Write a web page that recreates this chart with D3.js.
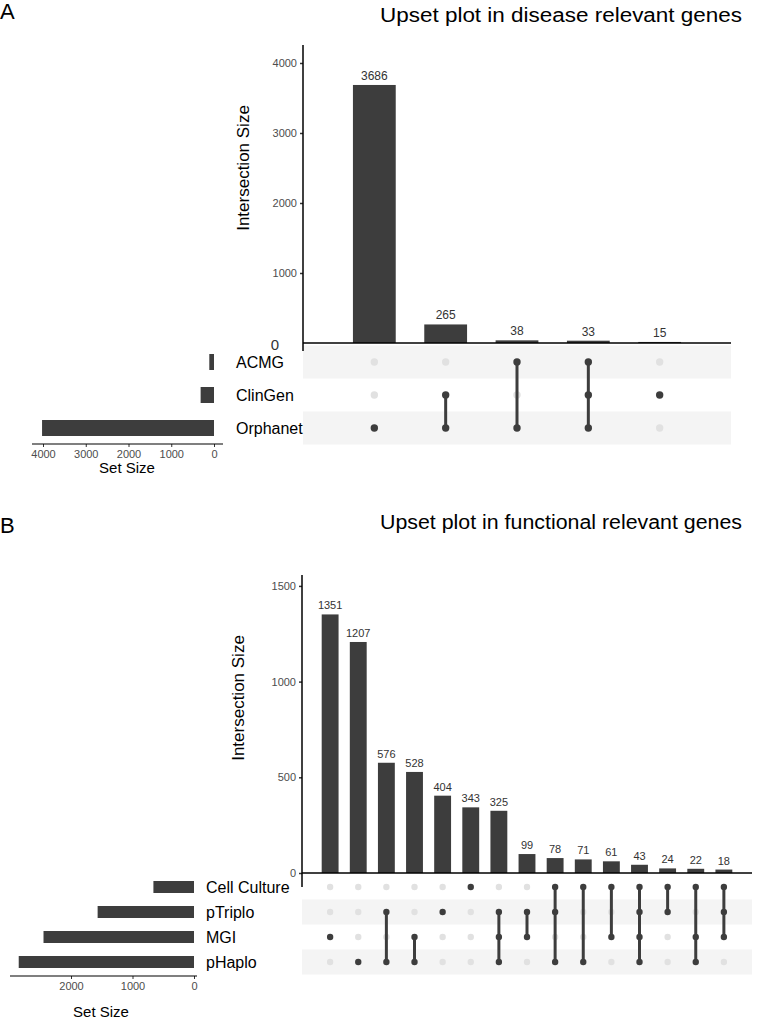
<!DOCTYPE html>
<html>
<head>
<meta charset="utf-8">
<script src="https://cdn.jsdelivr.net/npm/d3@7"></script>
<style>
  body { margin: 0; background: #fff; }
  svg { display: block; font-family: "Liberation Sans", Arial, sans-serif; }
</style>
</head>
<body>
<script>
// panel A data
var setsA = ["ACMG", "ClinGen", "Orphanet"];
var setSizesA = [110, 313, 4022];
var countsA = [3686, 265, 38, 33, 15];
var membersA = [
  ["Orphanet"],
  ["ClinGen", "Orphanet"],
  ["ACMG", "Orphanet"],
  ["ACMG", "ClinGen", "Orphanet"],
  ["ClinGen"]
];
var yTicksA = [1000, 2000, 3000, 4000];
var setTicksA = [0, 1000, 2000, 3000, 4000];

// panel B data
var setsB = ["Cell Culture", "pTriplo", "MGI", "pHaplo"];
var setSizesB = [660, 1567, 2447, 2850];
var countsB = [1351, 1207, 576, 528, 404, 343, 325, 99, 78, 71, 61, 43, 24, 22, 18];
var membersB = [
  ["MGI"],
  ["pHaplo"],
  ["pTriplo", "pHaplo"],
  ["MGI", "pHaplo"],
  ["pTriplo"],
  ["Cell Culture"],
  ["pTriplo", "MGI", "pHaplo"],
  ["pTriplo", "MGI"],
  ["Cell Culture", "pTriplo", "pHaplo"],
  ["Cell Culture", "pHaplo"],
  ["Cell Culture", "MGI"],
  ["Cell Culture", "pTriplo", "MGI", "pHaplo"],
  ["Cell Culture", "pTriplo"],
  ["Cell Culture", "MGI", "pHaplo"],
  ["Cell Culture", "pTriplo", "MGI"]
];
var yTicksB = [0, 500, 1000, 1500];
var setTicksB = [0, 1000, 2000];

var width = 760, height = 1020;
var dark = "#3d3d3d", light = "#e1e1e1", stripe = "#f4f4f4";
var fmt = d3.format("d");

var svg = d3.select("body").append("svg")
    .attr("width", width)
    .attr("height", height);

function upset(p) {
  var g = svg.append("g");
  var n = p.counts.length;
  var step = (p.right - p.left) / (n + 1);
  var x = d3.scalePoint()
      .domain(d3.range(n))
      .range([p.left + step, p.right - step]);
  var bw = step * 0.6;
  var y = d3.scaleLinear().domain([0, p.yMax]).range([p.y0, p.yTop]);

  // panel letter and title
  g.append("text").attr("x", 0).attr("y", p.letterY)
      .style("font-size", "22px").text(p.letter);
  g.append("text").attr("x", 380).attr("y", p.titleY)
      .attr("textLength", 362).attr("lengthAdjust", "spacingAndGlyphs")
      .style("font-size", "20px").text(p.title);

  // matrix stripes
  var row = d3.scaleBand().domain(p.sets)
      .range([p.mTop, p.mTop + p.rowH * p.sets.length]);
  g.selectAll(".stripe").data(p.sets.filter(function(s, i) {
        return (p.sets.length - 1 - i) % 2 === 0; }))
    .enter().append("rect")
      .attr("x", p.left).attr("width", p.right - p.left)
      .attr("y", function(s) { return row(s); })
      .attr("height", row.bandwidth())
      .attr("fill", stripe);

  // intersection bars
  g.selectAll(".bar").data(p.counts).enter().append("rect")
      .attr("x", function(d, i) { return x(i) - bw / 2; })
      .attr("width", bw)
      .attr("y", function(d) { return y(d); })
      .attr("height", function(d) { return p.y0 - y(d); })
      .attr("fill", dark);
  g.selectAll(".lab").data(p.counts).enter().append("text")
      .attr("x", function(d, i) { return x(i); })
      .attr("y", function(d) { return y(d) - 5; })
      .attr("text-anchor", "middle")
      .style("font-size", p.labSize + "px")
      .attr("fill", "#333")
      .text(function(d) { return d; });

  // y axis
  var ax = g.append("g").attr("transform", "translate(" + p.left + ",0)")
      .call(d3.axisLeft(y).tickValues(p.yTicks).tickFormat(fmt).tickSize(3).tickPadding(3));
  ax.select(".domain").remove();
  ax.selectAll(".tick line").attr("stroke", "#333").attr("stroke-width", 1.5);
  ax.selectAll(".tick text").attr("fill", "#4d4d4d")
      .style("font-size", "11px").style("font-family", "inherit");
  g.append("line").attr("x1", p.left).attr("x2", p.left)
      .attr("y1", p.yTop).attr("y2", p.y0 + p.axisTail)
      .attr("stroke", "#000").attr("stroke-width", 1.5);
  g.append("line").attr("x1", p.left).attr("x2", p.right)
      .attr("y1", p.y0).attr("y2", p.y0)
      .attr("stroke", "#000").attr("stroke-width", 1.5);
  if (p.bigZero) {
    g.append("text").attr("x", p.left - 24).attr("y", p.y0 + 7)
        .attr("text-anchor", "end").attr("fill", "#333")
        .style("font-size", "15px").text("0");
  }
  g.append("text")
      .attr("transform", "translate(" + p.yLabX + "," + p.yLabY + ") rotate(-90)")
      .attr("text-anchor", "middle")
      .style("font-size", "17px").text("Intersection Size");

  // matrix dots and links
  var cy = function(s) { return row(s) + row.bandwidth() / 2; };
  p.counts.forEach(function(c, i) {
    p.sets.forEach(function(s) {
      var on = p.members[i].indexOf(s) >= 0;
      g.append("circle").attr("cx", x(i)).attr("cy", cy(s))
          .attr("r", p.dotR).attr("fill", on ? dark : light);
    });
    var ys = p.members[i].map(cy);
    if (ys.length > 1) {
      g.append("line").attr("x1", x(i)).attr("x2", x(i))
          .attr("y1", d3.min(ys)).attr("y2", d3.max(ys))
          .attr("stroke", dark).attr("stroke-width", 3);
    }
  });

  // set names
  g.selectAll(".setname").data(p.sets).enter().append("text")
      .attr("x", p.nameX)
      .attr("y", function(s) { return cy(s) + 6; })
      .style("font-size", "16px")
      .text(function(s) { return s; });

  // set size bars
  var sx = d3.scaleLinear().domain([0, p.setMax]).range([p.setRight, p.setLeft]);
  g.selectAll(".setbar").data(p.sets).enter().append("rect")
      .attr("x", function(s, i) { return sx(p.setSizes[i]); })
      .attr("width", function(s, i) { return p.setRight - sx(p.setSizes[i]); })
      .attr("y", function(s) { return cy(s) - p.setBarH / 2; })
      .attr("height", p.setBarH)
      .attr("fill", dark);
  var sax = g.append("g").attr("transform", "translate(0," + p.setAxisY + ")")
      .call(d3.axisBottom(sx).tickValues(p.setTicks).tickFormat(fmt).tickSize(3).tickPadding(3));
  sax.select(".domain").remove();
  sax.selectAll(".tick line").attr("stroke", "#333");
  sax.selectAll(".tick text").attr("fill", "#4d4d4d")
      .style("font-size", "11px").style("font-family", "inherit");
  g.append("line").attr("x1", p.setAxisL).attr("x2", p.setAxisR)
      .attr("y1", p.setAxisY).attr("y2", p.setAxisY)
      .attr("stroke", "#000").attr("stroke-width", 1.2);
  g.append("text").attr("x", p.setLabX).attr("y", p.setLabY)
      .attr("text-anchor", "middle")
      .style("font-size", "15px").text("Set Size");
}

upset({
  letter: "A", letterY: 19, title: "Upset plot in disease relevant genes", titleY: 22,
  sets: setsA, setSizes: setSizesA, counts: countsA, members: membersA,
  yTicks: yTicksA, setTicks: setTicksA,
  left: 303, right: 731, yTop: 45, y0: 343, yMax: 4257, axisTail: 8, bigZero: true,
  labSize: 12, yLabX: 249, yLabY: 168,
  mTop: 345.5, rowH: 33, dotR: 3.7, nameX: 236,
  setMax: 4000, setRight: 214, setLeft: 43, setBarH: 16,
  setAxisY: 444, setAxisL: 32, setAxisR: 223, setLabX: 127, setLabY: 473
});

upset({
  letter: "B", letterY: 533, title: "Upset plot in functional relevant genes", titleY: 529,
  sets: setsB, setSizes: setSizesB, counts: countsB, members: membersB,
  yTicks: yTicksB, setTicks: setTicksB,
  left: 302, right: 752, yTop: 575, y0: 873, yMax: 1557, axisTail: 14, bigZero: false,
  labSize: 11, yLabX: 244, yLabY: 698,
  mTop: 874.5, rowH: 25, dotR: 3.2, nameX: 206,
  setMax: 2000, setRight: 194, setLeft: 71, setBarH: 12,
  setAxisY: 976, setAxisL: 10, setAxisR: 197, setLabX: 101, setLabY: 1017
});
</script>
</body>
</html>
